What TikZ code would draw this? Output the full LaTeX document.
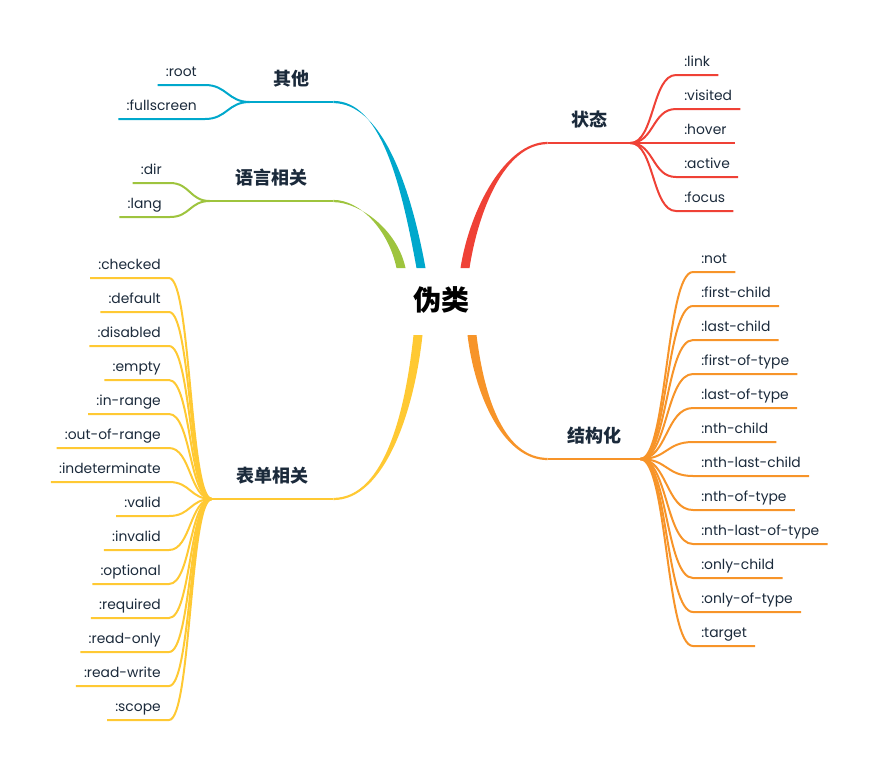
\documentclass[tikz,border=0pt]{standalone}
\usepackage{fontspec}
\usepackage{tikz}
\usetikzlibrary{calc}
\newfontfamily\leaffont{Poppins}
\newfontfamily\cjkfont{Noto Sans CJK SC}
\definecolor{ink}{HTML}{1B2A3B}
\definecolor{qtblue}{HTML}{00A8CC}
\definecolor{yygreen}{HTML}{9EC43E}
\definecolor{ztred}{HTML}{EF4136}
\definecolor{jgorange}{HTML}{F79429}
\definecolor{bdyellow}{HTML}{FFC933}
\tikzset{
	hub/.style={font=\cjkfont\bfseries\fontsize{21}{24}\selectfont, text=black},
	topic/.style={font=\cjkfont\bfseries\fontsize{13.5}{16}\selectfont, text=ink, inner xsep=0pt, inner ysep=12.5pt, text height=10pt, text depth=0pt},
	leaf/.style={font=\leaffont\fontsize{10.4}{12}\selectfont, text=ink, inner xsep=6pt, inner ysep=3.8pt, text height=7.5pt, text depth=2.5pt},
	twig/.style={line width=1.5pt}
}

\begin{document}
\begin{tikzpicture}[x=0.75pt,y=-0.75pt]
	\useasboundingbox (0,0) rectangle (871,772);
	\node[hub] (root) at (441,300) {伪类};

	% 其他
	\node[topic, minimum width=62.25pt, anchor=south] (qt) at (291.5,102) {其他};
	\coordinate (qt-in) at ($(root)+(-20,-32)$);
	\draw[twig, qtblue] (qt.south west) -- (qt.south east);
	\fill[qtblue] ($(qt-in)+(-4.5,0)$) .. controls (400.5,180) and (380,100.8) .. ($(qt.south east)+(0,-1.1)$) -- ($(qt.south east)+(0,1.1)$) .. controls (380,103.2) and (409.5,180) .. ($(qt-in)+(4.5,0)$) -- cycle;
	\node[leaf, anchor=south east] (qt-root) at (205,85) {:root};
	\draw[twig, qtblue] (qt-root.south west) -- (qt-root.south east) .. controls +(22,0) and +(-22,0) .. (qt.south west);
	\node[leaf, anchor=south east] (qt-full) at (205,119) {:fullscreen};
	\draw[twig, qtblue] (qt-full.south west) -- (qt-full.south east) .. controls +(22,0) and +(-22,0) .. (qt.south west);

	% 语言相关
	\node[topic, minimum width=92.25pt, anchor=south] (yy) at (271.5,201) {语言相关};
	\coordinate (yy-in) at ($(root)+(-40,-32)$);
	\draw[twig, yygreen] (yy.south west) -- (yy.south east);
	\fill[yygreen] ($(yy-in)+(-4.5,0)$) .. controls (388.5,230) and (360,199.8) .. ($(yy.south east)+(0,-1.1)$) -- ($(yy.south east)+(0,1.1)$) .. controls (360,202.2) and (397.5,230) .. ($(yy-in)+(4.5,0)$) -- cycle;
	\node[leaf, anchor=south east] (yy-dir) at (170,183) {:dir};
	\draw[twig, yygreen] (yy-dir.south west) -- (yy-dir.south east) .. controls +(20,0) and +(-20,0) .. (yy.south west);
	\node[leaf, anchor=south east] (yy-lang) at (170,217) {:lang};
	\draw[twig, yygreen] (yy-lang.south west) -- (yy-lang.south east) .. controls +(20,0) and +(-20,0) .. (yy.south west);

	% 状态
	\node[topic, minimum width=61.5pt, anchor=south] (zt) at (589,143) {状态};
	\coordinate (zt-in) at ($(root)+(24,-32)$);
	\draw[twig, ztred] (zt.south west) -- (zt.south east);
	\fill[ztred] ($(zt-in)+(-4.5,0)$) .. controls (469.5,210) and (505,141.8) .. ($(zt.south west)+(0,-1.1)$) -- ($(zt.south west)+(0,1.1)$) .. controls (505,144.2) and (478.5,210) .. ($(zt-in)+(4.5,0)$) -- cycle;
	\node[leaf, anchor=south west] (zt-link) at (676,75) {:link};
	\draw[twig, ztred] (zt.south east) .. controls +(24,0) and +(-24,0) .. (zt-link.south west) -- (zt-link.south east);
	\node[leaf, anchor=south west] (zt-visited) at (676,109) {:visited};
	\draw[twig, ztred] (zt.south east) .. controls +(24,0) and +(-24,0) .. (zt-visited.south west) -- (zt-visited.south east);
	\node[leaf, anchor=south west] (zt-hover) at (676,143) {:hover};
	\draw[twig, ztred] (zt.south east) -- (zt-hover.south west) -- (zt-hover.south east);
	\node[leaf, anchor=south west] (zt-active) at (676,177) {:active};
	\draw[twig, ztred] (zt.south east) .. controls +(24,0) and +(-24,0) .. (zt-active.south west) -- (zt-active.south east);
	\node[leaf, anchor=south west] (zt-focus) at (676,211) {:focus};
	\draw[twig, ztred] (zt.south east) .. controls +(24,0) and +(-24,0) .. (zt-focus.south west) -- (zt-focus.south east);

	% 结构化
	\node[topic, minimum width=69pt, anchor=south] (jg) at (594,459) {结构化};
	\coordinate (jg-in) at ($(root)+(31,35)$);
	\draw[twig, jgorange] (jg.south west) -- (jg.south east);
	\fill[jgorange] ($(jg-in)+(-4.5,0)$) .. controls (475.5,400) and (505,460.2) .. ($(jg.south west)+(0,1.1)$) -- ($(jg.south west)+(0,-1.1)$) .. controls (505,457.8) and (484.5,400) .. ($(jg-in)+(4.5,0)$) -- cycle;
	\node[leaf, anchor=south west] (jg-not) at (693,272) {:not};
	\draw[twig, jgorange] (jg.south east) .. controls +(27,0) and +(-27,0) .. (jg-not.south west) -- (jg-not.south east);
	\node[leaf, anchor=south west] (jg-fc) at (693,306) {:first-child};
	\draw[twig, jgorange] (jg.south east) .. controls +(27,0) and +(-27,0) .. (jg-fc.south west) -- (jg-fc.south east);
	\node[leaf, anchor=south west] (jg-lc) at (693,340) {:last-child};
	\draw[twig, jgorange] (jg.south east) .. controls +(27,0) and +(-27,0) .. (jg-lc.south west) -- (jg-lc.south east);
	\node[leaf, anchor=south west] (jg-fot) at (693,374) {:first-of-type};
	\draw[twig, jgorange] (jg.south east) .. controls +(27,0) and +(-27,0) .. (jg-fot.south west) -- (jg-fot.south east);
	\node[leaf, anchor=south west] (jg-lot) at (693,408) {:last-of-type};
	\draw[twig, jgorange] (jg.south east) .. controls +(27,0) and +(-27,0) .. (jg-lot.south west) -- (jg-lot.south east);
	\node[leaf, anchor=south west] (jg-nc) at (693,442) {:nth-child};
	\draw[twig, jgorange] (jg.south east) .. controls +(27,0) and +(-27,0) .. (jg-nc.south west) -- (jg-nc.south east);
	\node[leaf, anchor=south west] (jg-nlc) at (693,476) {:nth-last-child};
	\draw[twig, jgorange] (jg.south east) .. controls +(27,0) and +(-27,0) .. (jg-nlc.south west) -- (jg-nlc.south east);
	\node[leaf, anchor=south west] (jg-not2) at (693,510) {:nth-of-type};
	\draw[twig, jgorange] (jg.south east) .. controls +(27,0) and +(-27,0) .. (jg-not2.south west) -- (jg-not2.south east);
	\node[leaf, anchor=south west] (jg-nlot) at (693,544) {:nth-last-of-type};
	\draw[twig, jgorange] (jg.south east) .. controls +(27,0) and +(-27,0) .. (jg-nlot.south west) -- (jg-nlot.south east);
	\node[leaf, anchor=south west] (jg-oc) at (693,578) {:only-child};
	\draw[twig, jgorange] (jg.south east) .. controls +(27,0) and +(-27,0) .. (jg-oc.south west) -- (jg-oc.south east);
	\node[leaf, anchor=south west] (jg-oot) at (693,612) {:only-of-type};
	\draw[twig, jgorange] (jg.south east) .. controls +(27,0) and +(-27,0) .. (jg-oot.south west) -- (jg-oot.south east);
	\node[leaf, anchor=south west] (jg-target) at (693,646) {:target};
	\draw[twig, jgorange] (jg.south east) .. controls +(27,0) and +(-27,0) .. (jg-target.south west) -- (jg-target.south east);

	% 表单相关
	\node[topic, minimum width=90.75pt, anchor=south] (bd) at (272.5,499) {表单相关};
	\coordinate (bd-in) at ($(root)+(-23,35)$);
	\draw[twig, bdyellow] (bd.south west) -- (bd.south east);
	\fill[bdyellow] ($(bd-in)+(-4.5,0)$) .. controls (405.5,410) and (385,497.8) .. ($(bd.south east)+(0,-1.1)$) -- ($(bd.south east)+(0,1.1)$) .. controls (385,500.2) and (414.5,410) .. ($(bd-in)+(4.5,0)$) -- cycle;
	\node[leaf, anchor=south east] (bd-checked) at (169,278) {:checked};
	\draw[twig, bdyellow] (bd-checked.south west) -- (bd-checked.south east) .. controls +(22,0) and +(-22,0) .. (bd.south west);
	\node[leaf, anchor=south east] (bd-default) at (169,312) {:default};
	\draw[twig, bdyellow] (bd-default.south west) -- (bd-default.south east) .. controls +(22,0) and +(-22,0) .. (bd.south west);
	\node[leaf, anchor=south east] (bd-disabled) at (169,346) {:disabled};
	\draw[twig, bdyellow] (bd-disabled.south west) -- (bd-disabled.south east) .. controls +(22,0) and +(-22,0) .. (bd.south west);
	\node[leaf, anchor=south east] (bd-empty) at (169,380) {:empty};
	\draw[twig, bdyellow] (bd-empty.south west) -- (bd-empty.south east) .. controls +(22,0) and +(-22,0) .. (bd.south west);
	\node[leaf, anchor=south east] (bd-inrange) at (169,414) {:in-range};
	\draw[twig, bdyellow] (bd-inrange.south west) -- (bd-inrange.south east) .. controls +(22,0) and +(-22,0) .. (bd.south west);
	\node[leaf, anchor=south east] (bd-outrange) at (169,448) {:out-of-range};
	\draw[twig, bdyellow] (bd-outrange.south west) -- (bd-outrange.south east) .. controls +(22,0) and +(-22,0) .. (bd.south west);
	\node[leaf, anchor=south east] (bd-indet) at (169,482) {:indeterminate};
	\draw[twig, bdyellow] (bd-indet.south west) -- (bd-indet.south east) .. controls +(22,0) and +(-22,0) .. (bd.south west);
	\node[leaf, anchor=south east] (bd-valid) at (169,516) {:valid};
	\draw[twig, bdyellow] (bd-valid.south west) -- (bd-valid.south east) .. controls +(22,0) and +(-22,0) .. (bd.south west);
	\node[leaf, anchor=south east] (bd-invalid) at (169,550) {:invalid};
	\draw[twig, bdyellow] (bd-invalid.south west) -- (bd-invalid.south east) .. controls +(22,0) and +(-22,0) .. (bd.south west);
	\node[leaf, anchor=south east] (bd-optional) at (169,584) {:optional};
	\draw[twig, bdyellow] (bd-optional.south west) -- (bd-optional.south east) .. controls +(22,0) and +(-22,0) .. (bd.south west);
	\node[leaf, anchor=south east] (bd-required) at (169,618) {:required};
	\draw[twig, bdyellow] (bd-required.south west) -- (bd-required.south east) .. controls +(22,0) and +(-22,0) .. (bd.south west);
	\node[leaf, anchor=south east] (bd-ronly) at (169,652) {:read-only};
	\draw[twig, bdyellow] (bd-ronly.south west) -- (bd-ronly.south east) .. controls +(22,0) and +(-22,0) .. (bd.south west);
	\node[leaf, anchor=south east] (bd-rwrite) at (169,686) {:read-write};
	\draw[twig, bdyellow] (bd-rwrite.south west) -- (bd-rwrite.south east) .. controls +(22,0) and +(-22,0) .. (bd.south west);
	\node[leaf, anchor=south east] (bd-scope) at (169,720) {:scope};
	\draw[twig, bdyellow] (bd-scope.south west) -- (bd-scope.south east) .. controls +(22,0) and +(-22,0) .. (bd.south west);
\end{tikzpicture}
\end{document}
